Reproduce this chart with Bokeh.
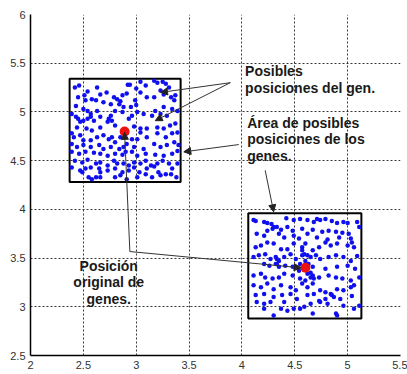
from bokeh.plotting import figure
from bokeh.models import Arrow, NormalHead, ColumnDataSource, FixedTicker, Range1d
from bokeh.core.properties import value
from bokeh.embed import file_html
from bokeh.resources import INLINE

# ---- data ----
x_ticks = [2, 2.5, 3, 3.5, 4, 4.5, 5, 5.5]
x_tick_labels = ["2", "2.5", "3", "3.5", "4", "4.5", "5", "5.5"]
y_ticks = [2.5, 3, 3.5, 4, 4.5, 5, 5.5, 6]
y_tick_labels = ["2.5", "3", "3.5", "4", "4.5", "5", "5.5", "6"]

orig_x = [2.89, 4.60]
orig_y = [4.80, 3.40]

box_left = [2.37, 4.06]
box_right = [3.42, 5.13]
box_bottom = [4.28, 2.88]
box_top = [5.34, 3.96]

g1_x = [2.46, 2.42, 2.63, 2.54, 2.45, 2.58, 2.66, 2.72, 2.79, 2.82, 2.85, 2.92, 2.94, 3.00, 3.04, 3.09,
        3.17, 3.20, 3.25, 3.28, 3.31, 3.23, 3.26, 3.33, 3.36, 3.37, 3.17, 3.10, 3.04, 2.91, 2.87, 2.99,
        3.00, 2.95, 2.88, 2.87, 2.80, 2.84, 2.76, 2.69, 2.62, 2.52, 2.51, 2.43, 2.50, 2.54, 2.57, 2.63,
        2.66, 2.74, 2.76, 2.77, 2.39, 2.43, 2.45, 2.47, 2.50, 2.54, 2.57, 2.60, 2.44, 2.53, 2.58, 2.66,
        2.73, 2.80, 3.01, 3.07, 3.15, 3.18, 3.23, 3.26, 3.29, 3.34, 3.39, 3.37, 3.32, 3.26, 3.20, 3.10,
        3.04, 2.98, 2.96, 2.93, 2.39, 2.41, 2.47, 2.50, 2.57, 2.63, 2.69, 2.74, 2.77, 2.80, 2.85, 2.91,
        2.96, 3.01, 3.04, 3.10, 3.20, 3.28, 3.34, 3.39, 2.39, 2.44, 2.50, 2.57, 2.65, 2.69, 2.76, 2.84,
        2.88, 2.91, 2.98, 3.07, 3.17, 3.23, 3.29, 3.36, 3.40, 2.39, 2.46, 2.52, 2.60, 2.66, 2.73, 2.80,
        2.87, 2.90, 2.96, 3.01, 3.09, 3.18, 3.26, 3.34, 3.39, 2.42, 2.49, 2.54, 2.62, 2.66, 2.73, 2.79,
        2.82, 2.88, 2.93, 2.98, 3.04, 3.09, 3.14, 3.20, 3.25, 3.31, 3.39, 2.39, 2.47, 2.52, 2.57, 2.65,
        2.66, 2.73, 2.80, 2.87, 2.93, 2.98, 3.03, 3.10, 3.17, 3.21, 3.28, 3.34, 3.38, 2.49, 2.55, 2.58,
        2.62, 2.66, 2.80, 2.85, 2.91, 3.01, 3.09, 3.15, 3.23, 3.33]
g1_y = [5.27, 5.25, 5.25, 5.21, 5.15, 5.13, 5.18, 5.20, 5.15, 5.13, 5.11, 5.28, 5.28, 5.24, 5.31, 5.27,
        5.32, 5.30, 5.31, 5.29, 5.25, 5.22, 5.18, 5.15, 5.12, 5.17, 5.15, 5.15, 5.20, 5.19, 5.17, 5.12,
        5.07, 5.05, 5.05, 5.00, 5.01, 5.08, 5.08, 5.10, 5.12, 5.12, 5.17, 5.06, 5.03, 5.01, 4.98, 5.01,
        4.95, 4.93, 4.96, 4.91, 4.98, 4.95, 4.93, 4.90, 4.91, 4.93, 4.95, 4.91, 4.84, 4.83, 4.81, 4.84,
        4.90, 4.86, 5.00, 4.98, 4.96, 5.01, 4.98, 5.05, 4.96, 5.03, 5.01, 4.88, 4.86, 4.83, 4.84, 4.83,
        4.83, 4.85, 4.96, 4.93, 4.78, 4.74, 4.76, 4.71, 4.71, 4.74, 4.76, 4.72, 4.74, 4.69, 4.74, 4.78,
        4.72, 4.72, 4.79, 4.74, 4.78, 4.74, 4.78, 4.79, 4.67, 4.64, 4.66, 4.64, 4.66, 4.62, 4.64, 4.62,
        4.64, 4.67, 4.64, 4.62, 4.67, 4.64, 4.66, 4.69, 4.66, 4.59, 4.57, 4.59, 4.58, 4.57, 4.55, 4.57,
        4.56, 4.59, 4.59, 4.55, 4.57, 4.56, 4.55, 4.57, 4.60, 4.50, 4.48, 4.51, 4.47, 4.48, 4.45, 4.50,
        4.47, 4.47, 4.45, 4.48, 4.47, 4.50, 4.45, 4.47, 4.50, 4.47, 4.47, 4.43, 4.40, 4.42, 4.43, 4.42,
        4.38, 4.40, 4.42, 4.38, 4.40, 4.43, 4.38, 4.42, 4.44, 4.38, 4.36, 4.42, 4.33, 4.38, 4.33, 4.31,
        4.33, 4.33, 4.33, 4.35, 4.31, 4.33, 4.36, 4.33, 4.35, 4.36]

g2_x = [4.11, 4.13, 4.21, 4.24, 4.28, 4.30, 4.33, 4.42, 4.49, 4.55, 4.62, 4.68, 4.71, 4.74, 4.79, 4.85,
        4.90, 4.96, 5.00, 5.09, 5.11, 4.24, 4.29, 4.37, 4.43, 4.48, 4.57, 4.67, 4.76, 4.82, 4.89, 4.95,
        5.01, 4.14, 4.21, 4.35, 4.40, 4.49, 4.54, 4.62, 4.71, 4.81, 4.92, 5.03, 5.04, 4.13, 4.18, 4.24,
        4.30, 4.37, 4.43, 4.49, 4.57, 4.60, 4.67, 4.73, 4.79, 4.84, 4.90, 5.00, 5.06, 5.09, 4.11, 4.16,
        4.22, 4.27, 4.33, 4.35, 4.40, 4.46, 4.51, 4.57, 4.59, 4.62, 4.65, 4.70, 4.74, 4.82, 4.89, 4.96,
        5.03, 4.21, 4.26, 4.32, 4.35, 4.41, 4.48, 4.54, 4.67, 4.79, 4.90, 5.00, 5.07, 4.11, 4.18, 4.22,
        4.29, 4.35, 4.40, 4.48, 4.55, 4.60, 4.65, 4.73, 4.82, 4.89, 4.95, 5.03, 5.11, 4.11, 4.18, 4.24,
        4.30, 4.37, 4.46, 4.51, 4.57, 4.62, 4.67, 4.74, 4.79, 4.84, 4.90, 4.96, 5.03, 5.06, 4.13, 4.21,
        4.30, 4.38, 4.46, 4.52, 4.62, 4.68, 4.73, 4.79, 4.85, 4.87, 4.93, 5.04, 4.14, 4.21, 4.27, 4.40,
        4.49, 4.55, 4.59, 4.65, 4.74, 4.81, 4.96, 5.11, 4.30, 4.43, 4.67, 4.89, 4.90, 5.06, 4.21, 4.37,
        4.57, 4.60, 4.63, 4.65, 4.59, 4.62, 4.67, 4.55, 4.68, 4.32, 4.33]
g2_y = [3.89, 3.88, 3.87, 3.86, 3.85, 3.82, 3.82, 3.91, 3.89, 3.90, 3.89, 3.87, 3.90, 3.89, 3.90, 3.88,
        3.86, 3.87, 3.86, 3.87, 3.82, 3.78, 3.80, 3.79, 3.82, 3.78, 3.80, 3.79, 3.77, 3.78, 3.77, 3.76,
        3.75, 3.75, 3.73, 3.75, 3.71, 3.73, 3.70, 3.75, 3.71, 3.69, 3.71, 3.70, 3.66, 3.61, 3.63, 3.66,
        3.65, 3.59, 3.59, 3.65, 3.61, 3.65, 3.58, 3.61, 3.66, 3.63, 3.65, 3.63, 3.61, 3.52, 3.51, 3.53,
        3.54, 3.49, 3.49, 3.47, 3.51, 3.54, 3.49, 3.58, 3.54, 3.53, 3.51, 3.53, 3.49, 3.51, 3.53, 3.51,
        3.47, 3.44, 3.42, 3.44, 3.41, 3.42, 3.41, 3.37, 3.41, 3.39, 3.41, 3.42, 3.39, 3.32, 3.34, 3.30,
        3.29, 3.30, 3.34, 3.32, 3.29, 3.27, 3.30, 3.30, 3.32, 3.30, 3.29, 3.27, 3.30, 3.22, 3.20, 3.24,
        3.18, 3.22, 3.20, 3.17, 3.24, 3.20, 3.24, 3.17, 3.15, 3.13, 3.18, 3.17, 3.20, 3.22, 3.12, 3.13,
        3.10, 3.12, 3.13, 3.08, 3.12, 3.13, 3.06, 3.08, 3.12, 3.10, 3.08, 3.11, 3.05, 3.03, 3.05, 3.05,
        2.98, 2.98, 3.00, 3.03, 3.05, 3.03, 3.01, 3.01, 2.91, 2.96, 2.93, 2.93, 2.91, 2.98, 2.98, 2.98,
        3.53, 3.47, 3.44, 3.35, 3.41, 3.34, 3.32, 3.44, 3.29, 3.51, 3.44]

# annotation arrows (data units)
arr_x0 = [3.89, 3.89, 3.97, 4.22, 2.94, 2.94]
arr_y0 = [5.30, 5.30, 4.665, 4.40, 3.567, 3.567]
arr_x1 = [3.23, 3.18, 3.45, 4.30, 2.89, 4.56]
arr_y1 = [5.20, 4.91, 4.59, 3.975, 4.79, 3.40]

# texts
txt1 = ["Posibles", "posiciones del gen."]
txt1_x = 4.03
txt1_y = [5.425, 5.25]
txt2 = ["Área de posibles", "posiciones de los", "genes."]
txt2_x = 4.05
txt2_y = [4.89, 4.725, 4.55]
txt3 = ["Posición", "original de", "genes."]
txt3_x = 2.74
txt3_y = [3.42, 3.25, 3.08]

# ---- figure ----
p = figure(width=407, height=374, output_backend="svg", toolbar_location=None,
           x_range=Range1d(2, 5.5), y_range=Range1d(2.5, 6),
           min_border_left=30, min_border_right=7, min_border_top=14, min_border_bottom=19)
p.outline_line_color = None
p.background_fill_color = "white"

for ax, ticks, labels in ((p.xaxis[0], x_ticks, x_tick_labels), (p.yaxis[0], y_ticks, y_tick_labels)):
    ax.ticker = FixedTicker(ticks=ticks)
    ax.major_label_overrides = {t: l for t, l in zip(ticks, labels)}
    ax.major_tick_in = 0
    ax.major_tick_out = 0
    ax.minor_tick_line_color = None
    ax.axis_line_color = "black"
    ax.axis_line_width = 1.5
    ax.major_label_text_font = "Liberation Sans"
    ax.major_label_text_font_size = "11px"
    ax.major_label_text_color = "#333333"
    ax.major_label_standoff = 5

p.xgrid[0].ticker = FixedTicker(ticks=x_ticks)
p.ygrid[0].ticker = FixedTicker(ticks=y_ticks)
for g in (p.xgrid[0], p.ygrid[0]):
    g.grid_line_color = "#222222"
    g.grid_line_dash = "2 2"
    g.grid_line_width = 1
    g.grid_line_alpha = 0.9

p.quad(left=box_left, right=box_right, bottom=box_bottom, top=box_top,
       fill_alpha=0, line_color="black", line_width=2)

p.scatter(g1_x, g1_y, size=4.5, color="#1010ee", line_color=None)
p.scatter(g2_x, g2_y, size=4.5, color="#1010ee", line_color=None)
p.scatter(orig_x, orig_y, size=10, color="#ee1111", line_color=None)

asrc = ColumnDataSource(dict(x0=arr_x0, y0=arr_y0, x1=arr_x1, y1=arr_y1))
p.add_layout(Arrow(end=NormalHead(size=7, fill_color="#222222", line_color="#222222", line_width=1),
                   x_start="x0", y_start="y0", x_end="x1", y_end="y1",
                   line_color="#333333", line_width=1, source=asrc))

tstyle = dict(text_font_size="14px", text_font_style="bold", text_color="#1a1a1a",
              text_baseline="middle", text_font=value("Liberation Sans"))
p.text(x=[txt1_x] * len(txt1), y=txt1_y, text=txt1, text_align="left", **tstyle)
p.text(x=[txt2_x] * len(txt2), y=txt2_y, text=txt2, text_align="left", **tstyle)
p.text(x=[txt3_x] * len(txt3), y=txt3_y, text=txt3, text_align="center", **tstyle)

open("out.html", "w").write(file_html(p, INLINE))
